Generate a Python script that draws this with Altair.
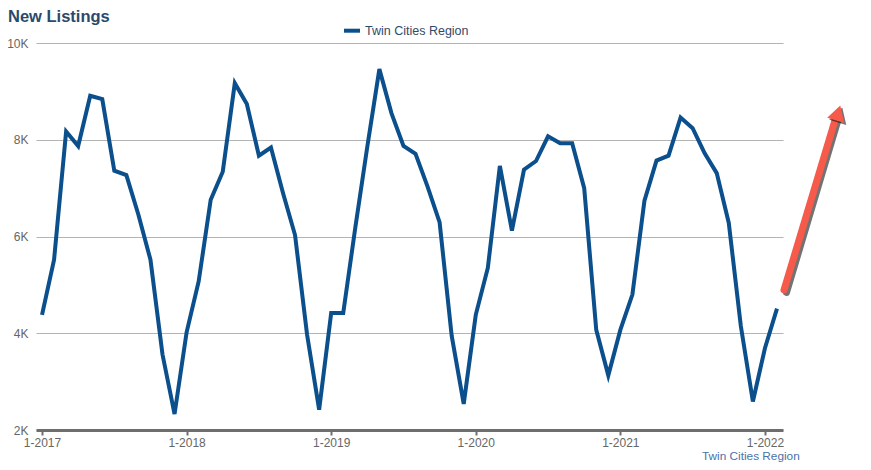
import altair as alt
import pandas as pd

months = [f"{m}-{y}" for y in range(2017, 2023) for m in range(1, 13)][:62]
new_listings = [
    4380, 5520, 8170, 7870, 8910, 8840, 7360, 7270, 6450, 5520, 3560, 2330,
    4020, 5070, 6760, 7340, 9170, 8740, 7670, 7840, 6900, 6030, 3970, 2420,
    4420, 4420, 6180, 7860, 9460, 8550, 7870, 7710, 7030, 6290, 3950, 2540,
    4380, 5350, 7460, 6120, 7380, 7560, 8070, 7930, 7930, 7000, 4070, 3130,
    4070, 4800, 6740, 7570, 7670, 8460, 8240, 7720, 7310, 6280, 4150, 2590,
    3690, 4510,
]
x_tick_labels = ["1-2017", "1-2018", "1-2019", "1-2020", "1-2021", "1-2022"]
y_ticks = [2000, 4000, 6000, 8000, 10000]
series_name = "Twin Cities Region"
title_text = "New Listings"

df = pd.DataFrame({"month": months, "value": new_listings, "series": series_name})

FONT = "Liberation Sans"
LINE_COLOR = "#0B4F8C"

W, H = 747, 387

line = alt.Chart(df).mark_line(color=LINE_COLOR, strokeWidth=4, strokeJoin="miter").encode(
    x=alt.X(
        "month:O",
        sort=None,
        scale=alt.Scale(type="point", padding=0.5),
        axis=alt.Axis(
            values=x_tick_labels,
            labelAngle=0,
            title=None,
            domainColor="#6e6e6e",
            domainWidth=3,
            tickColor="#6e6e6e",
            tickSize=5,
            tickWidth=2,
            labelPadding=2,
            labelColor="#666666",
            labelFontSize=12,
            labelFont=FONT,
            grid=False,
        ),
    ),
    y=alt.Y(
        "value:Q",
        scale=alt.Scale(domain=[2000, 10000], nice=False),
        axis=alt.Axis(
            values=y_ticks,
            labelExpr="datum.value / 1000 + 'K'",
            title=None,
            domain=False,
            ticks=False,
            labelPadding=8,
            labelColor="#666666",
            labelFontSize=12,
            labelFont=FONT,
            gridColor="#b4b4b4",
            gridWidth=1,
        ),
    ),
)

title = alt.Chart(pd.DataFrame({"t": [title_text]})).mark_text(
    align="left", baseline="alphabetic", font=FONT, fontSize=16.5, fontWeight="bold", color="#2B4A6B"
).encode(x=alt.value(-28), y=alt.value(-21), text="t:N")

legend_swatch = alt.Chart(pd.DataFrame({"a": [0]})).mark_rule(color=LINE_COLOR, strokeWidth=4).encode(
    x=alt.value(308), x2=alt.value(324), y=alt.value(-12.3)
)
legend_text = alt.Chart(pd.DataFrame({"t": [series_name]})).mark_text(
    align="left", baseline="alphabetic", font=FONT, fontSize=12.5, color="#2F4B6B"
).encode(x=alt.value(329), y=alt.value(-7.7), text="t:N")

source_text = alt.Chart(pd.DataFrame({"t": [series_name]})).mark_text(
    align="left", baseline="alphabetic", font=FONT, fontSize=11.8, color="#4A72A8"
).encode(x=alt.value(666), y=alt.value(416.5), text="t:N")

# red trend arrow annotation
arrow_shadow = alt.Chart(pd.DataFrame({"a": [0]})).mark_rule(
    color="#000000", opacity=0.55, strokeWidth=7, strokeCap="round"
).encode(x=alt.value(750.5), y=alt.value(249.5), x2=alt.value(802), y2=alt.value(77))
arrow_shaft = alt.Chart(pd.DataFrame({"a": [0]})).mark_rule(
    color="#F55A4A", strokeWidth=7, strokeCap="round"
).encode(x=alt.value(748), y=alt.value(247), x2=alt.value(800), y2=alt.value(74))
head_shadow = alt.Chart(pd.DataFrame({"a": [0]})).mark_point(
    shape="triangle-up", filled=True, color="#000000", opacity=0.55, size=320, angle=17
).encode(x=alt.value(804), y=alt.value(72))
arrow_head = alt.Chart(pd.DataFrame({"a": [0]})).mark_point(
    shape="triangle-up", filled=True, color="#F55A4A", opacity=1, size=320, angle=17
).encode(x=alt.value(802), y=alt.value(70))

chart = alt.layer(
    line, title, legend_swatch, legend_text, source_text,
    arrow_shadow, arrow_shaft, head_shadow, arrow_head,
).properties(
    width=W, height=H,
    padding={"left": 28, "top": 35, "right": 70, "bottom": 32},
    autosize=alt.AutoSizeParams(type="none"),
).configure(font=FONT).configure_view(stroke=None)

chart.save("out.html", embed_options={"renderer": "svg", "actions": False})
